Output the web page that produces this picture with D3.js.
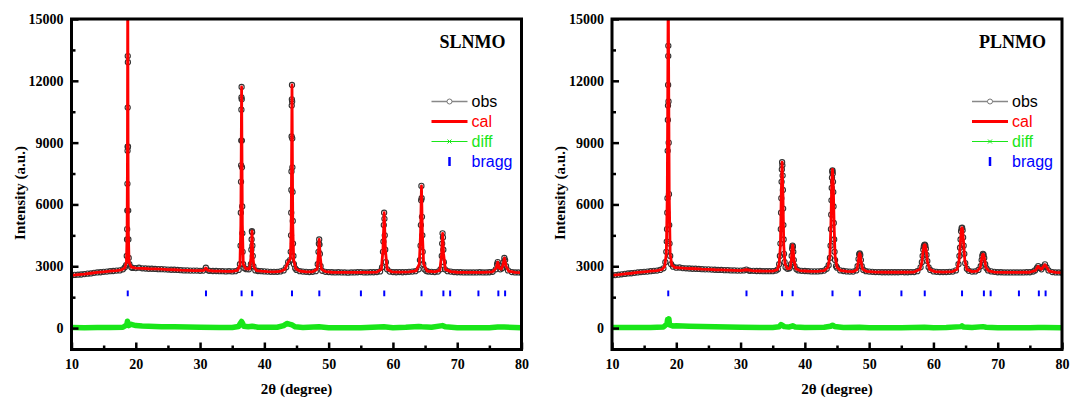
<!DOCTYPE html>
<html><head><meta charset="utf-8">
<script src="https://cdn.jsdelivr.net/npm/d3@7"></script>
<style>body{margin:0;background:#fff}svg{display:block}</style>
</head><body><svg id="c" width="1070" height="400"></svg>
<script>
// ---------- data ----------
const panelNames = ["SLNMO", "PLNMO"];
const legendLabels = ["obs", "cal", "diff", "bragg"];
const xMajorTicks = [10, 20, 30, 40, 50, 60, 70, 80];
const xMinorTicks = [15, 25, 35, 45, 55, 65, 75];
const yMajorTicks = [0, 3000, 6000, 9000, 12000, 15000];
const yMinorTicks = [1500, 4500, 7500, 10500, 13500];
const braggPeaks = [18.75, 30.92, 36.46, 38.1, 44.3, 48.55, 55.02, 58.65, 64.45, 67.85, 68.9, 73.3, 76.4, 77.45];

const obsSL = [[10,2550],[10.5,2580],[11,2590],[11.5,2600],[12,2620],[12.5,2640],[13,2650],[13.5,2680],[14,2700],[14.5,2710],[15,2730],[15.5,2740],[16,2760],[16.5,2770],[17,2790],[17.5,2800],[18,2850],[18.3,2950],[18.5,3050],[18.6,3500],[18.64,4300],[18.66,4800],[18.68,5700],[18.7,7000],[18.72,8600],[18.73,8800],[18.74,10700],[18.75,13200],[18.77,12900],[18.79,8800],[18.82,5700],[18.85,4300],[18.9,3400],[19.0,3100],[19.3,2950],[19.5,2920],[20,2910],[20.5,2930],[21,2900],[21.5,2890],[22,2880],[22.5,2880],[23,2870],[23.5,2860],[24,2860],[24.5,2850],[25,2840],[25.5,2830],[26,2830],[26.5,2820],[27,2810],[27.5,2800],[28,2800],[28.5,2790],[29,2790],[29.5,2790],[30,2780],[30.5,2790],[30.9,2930],[31.3,2790],[31.5,2780],[32,2770],[32.5,2770],[33,2760],[33.5,2760],[34,2750],[34.5,2760],[35,2750],[35.5,2760],[36,2820],[36.2,3100],[36.3,4000],[36.34,5600],[36.37,7100],[36.39,7900],[36.41,9100],[36.43,10600],[36.44,11200],[36.46,11700],[36.48,11100],[36.5,9100],[36.52,7800],[36.55,5900],[36.58,4600],[36.62,3700],[36.7,3100],[36.9,2900],[37.2,2860],[37.6,2850],[37.9,3100],[37.98,3800],[38.02,4300],[38.06,4700],[38.1,4650],[38.14,4000],[38.2,3500],[38.3,3000],[38.6,2800],[39,2770],[39.5,2760],[40,2750],[40.5,2740],[41,2730],[41.5,2730],[42,2730],[42.5,2750],[43,2800],[43.4,2950],[43.7,3200],[44.0,3300],[44.1,3700],[44.15,4500],[44.18,5600],[44.2,6700],[44.22,7600],[44.24,9300],[44.26,10800],[44.28,11100],[44.3,11800],[44.32,11000],[44.34,9200],[44.36,7800],[44.39,6600],[44.42,5200],[44.46,4100],[44.52,3500],[44.6,3100],[44.8,2900],[45,2820],[45.5,2760],[46,2740],[46.5,2730],[47,2720],[47.5,2730],[48,2760],[48.3,3100],[48.42,3700],[48.48,4100],[48.53,4300],[48.58,4050],[48.64,3600],[48.75,3000],[49,2780],[49.5,2730],[50,2720],[50.5,2710],[51,2700],[51.5,2710],[52,2700],[52.5,2700],[53,2690],[53.5,2700],[54,2700],[54.5,2710],[55,2720],[55.5,2700],[56,2700],[56.5,2710],[57,2710],[57.5,2720],[58,2750],[58.3,2950],[58.45,3700],[58.52,4200],[58.58,5000],[58.63,5600],[58.68,5300],[58.73,4500],[58.8,3800],[58.9,3200],[59.1,2850],[59.5,2740],[60,2720],[60.5,2710],[61,2720],[61.5,2710],[62,2720],[62.5,2730],[63,2740],[63.5,2760],[64,2850],[64.2,3300],[64.3,4000],[64.35,5000],[64.39,6200],[64.43,6900],[64.47,6300],[64.52,5400],[64.57,4500],[64.63,3700],[64.72,3100],[64.9,2850],[65.2,2770],[65.5,2740],[66,2730],[66.5,2720],[67,2740],[67.4,2850],[67.6,3500],[67.66,4100],[67.72,4600],[67.78,4400],[67.84,3800],[67.92,3200],[68.1,2850],[68.5,2760],[69,2740],[69.5,2720],[70,2710],[70.5,2710],[71,2700],[71.5,2700],[72,2700],[72.5,2700],[73,2700],[73.5,2710],[74,2700],[74.5,2700],[75,2710],[75.5,2730],[76,2850],[76.2,3100],[76.3,3200],[76.45,3050],[76.7,2850],[77,2900],[77.2,3200],[77.33,3400],[77.45,3300],[77.6,3000],[77.9,2800],[78.5,2720],[79,2700],[79.5,2700],[80,2690]];

const calSL = [[10,2560],[11,2590],[12,2620],[13,2660],[14,2700],[15,2730],[16,2760],[17,2790],[17.8,2830],[18.3,2920],[18.55,3200],[18.65,4600],[18.7,8000],[18.75,17500],[18.8,8000],[18.85,4600],[18.95,3200],[19.3,2960],[20,2910],[21,2900],[22,2880],[23,2870],[24,2860],[25,2840],[26,2830],[27,2810],[28,2800],[29,2790],[30,2785],[30.6,2800],[30.9,2920],[31.2,2800],[32,2770],[33,2760],[34,2755],[35,2755],[35.8,2800],[36.2,3050],[36.34,5000],[36.46,11700],[36.58,5000],[36.72,3100],[37.1,2880],[37.7,2880],[37.95,3500],[38.08,4700],[38.2,3500],[38.4,2950],[38.8,2790],[39.5,2760],[40.5,2740],[41.5,2730],[42.5,2750],[43.2,2850],[43.7,3200],[44.05,3350],[44.18,5000],[44.3,11800],[44.42,5000],[44.56,3300],[44.9,2880],[45.5,2770],[46.5,2730],[47.5,2730],[48.2,2850],[48.38,3500],[48.53,4300],[48.68,3500],[48.9,2850],[49.5,2740],[50.5,2710],[52,2700],[54,2700],[56,2705],[57.5,2720],[58.2,2850],[58.45,3800],[58.64,5600],[58.83,3800],[59.1,2850],[59.8,2730],[61,2715],[62.5,2730],[63.6,2780],[64.1,3100],[64.3,4600],[64.44,6900],[64.58,4600],[64.78,3100],[65.3,2770],[66.5,2725],[67.3,2800],[67.58,3600],[67.73,4600],[67.88,3600],[68.15,2850],[69,2740],[70,2710],[72,2700],[74,2700],[75.5,2730],[76.05,2900],[76.3,3200],[76.55,2900],[76.85,2850],[77.1,3050],[77.35,3400],[77.6,3000],[78,2760],[79,2700],[80,2690]];

const diffSL = [[10,30],[12,20],[14,30],[16,30],[18,40],[18.6,150],[18.7,330],[18.8,250],[18.9,120],[19.3,180],[20,120],[21,100],[22,90],[24,70],[26,60],[28,50],[30,40],[33,30],[35,30],[36,80],[36.3,250],[36.45,320],[36.6,250],[36.8,90],[37.5,60],[38.1,90],[39,40],[42,40],[43,120],[43.5,220],[44,180],[44.3,150],[44.8,60],[46,30],[48.5,60],[50,20],[55,20],[58.6,60],[60,20],[62,40],[64,80],[64.5,60],[66,40],[67.7,120],[68.2,60],[70,20],[75,20],[76.3,50],[77.3,50],[80,20]];

const obsPL = [[10,2560],[10.5,2570],[11,2590],[11.5,2610],[12,2630],[12.5,2650],[13,2660],[13.5,2680],[14,2700],[14.5,2720],[15,2730],[15.5,2740],[16,2760],[16.5,2780],[17,2790],[17.5,2820],[18,2900],[18.3,3200],[18.45,3700],[18.52,4200],[18.56,4800],[18.6,5600],[18.63,6300],[18.66,8600],[18.69,10100],[18.71,10800],[18.73,11800],[18.75,13200],[18.76,13700],[18.79,11000],[18.82,9000],[18.86,6500],[18.9,5000],[18.95,4100],[19.05,3500],[19.2,3100],[19.5,2980],[20,2930],[20.5,2940],[21,2910],[21.5,2900],[22,2890],[22.5,2880],[23,2880],[23.5,2870],[24,2860],[24.5,2850],[25,2850],[25.5,2840],[26,2830],[26.5,2820],[27,2820],[27.5,2810],[28,2810],[28.5,2800],[29,2800],[29.5,2790],[30,2790],[30.5,2800],[30.9,2840],[31.3,2790],[31.5,2780],[32,2780],[32.5,2770],[33,2770],[33.5,2760],[34,2760],[34.5,2760],[35,2760],[35.5,2790],[35.8,2850],[36.0,3100],[36.12,3500],[36.2,4100],[36.26,4800],[36.3,5600],[36.34,6300],[36.38,7100],[36.42,7700],[36.46,8050],[36.5,7900],[36.54,7400],[36.58,6700],[36.62,5800],[36.66,5000],[36.7,4300],[36.76,3600],[36.85,3200],[37.0,2950],[37.3,2880],[37.6,2900],[37.85,3100],[37.95,3500],[38.02,3850],[38.08,4000],[38.14,3950],[38.2,3700],[38.28,3300],[38.4,3000],[38.7,2850],[39,2800],[39.5,2780],[40,2770],[40.5,2760],[41,2750],[41.5,2750],[42,2750],[42.5,2760],[43,2790],[43.4,2880],[43.7,3050],[43.9,3400],[44.0,4000],[44.06,4800],[44.1,5500],[44.14,6200],[44.18,6800],[44.22,7300],[44.26,7600],[44.3,7650],[44.34,7500],[44.38,7100],[44.42,6600],[44.46,5900],[44.5,5100],[44.56,4300],[44.62,3700],[44.7,3300],[44.85,3000],[45,2930],[45.5,2800],[46,2770],[46.5,2750],[47,2740],[47.5,2740],[48,2800],[48.2,3000],[48.35,3350],[48.45,3580],[48.53,3620],[48.62,3550],[48.72,3300],[48.85,3000],[49.1,2820],[49.5,2760],[50,2740],[50.5,2730],[51,2720],[51.5,2720],[52,2710],[52.5,2710],[53,2710],[53.5,2710],[54,2710],[54.5,2710],[55,2720],[55.5,2710],[56,2710],[56.5,2720],[57,2720],[57.5,2760],[58.0,2950],[58.2,3200],[58.32,3500],[58.42,3800],[58.5,3950],[58.58,4030],[58.66,4050],[58.74,4000],[58.82,3850],[58.92,3550],[59.05,3250],[59.25,2950],[59.5,2820],[60,2750],[60.5,2730],[61,2720],[61.5,2720],[62,2720],[62.5,2730],[63,2740],[63.5,2800],[63.9,3100],[64.05,3500],[64.14,3900],[64.22,4300],[64.3,4700],[64.38,4850],[64.46,4870],[64.54,4750],[64.62,4400],[64.7,4000],[64.8,3600],[64.95,3150],[65.2,2880],[65.5,2780],[66,2740],[66.5,2750],[67,2820],[67.35,3000],[67.5,3300],[67.6,3500],[67.7,3600],[67.8,3560],[67.9,3400],[68.05,3100],[68.25,2900],[68.5,2800],[69,2750],[69.5,2730],[70,2710],[70.5,2710],[71,2700],[71.5,2700],[72,2700],[72.5,2700],[73,2700],[73.5,2700],[74,2700],[74.5,2710],[75,2710],[75.5,2740],[75.8,2800],[76.1,2920],[76.3,3010],[76.5,2920],[76.8,2850],[77.1,2980],[77.35,3090],[77.6,2950],[77.9,2800],[78.5,2720],[79,2700],[79.5,2700],[80,2690]];

const calPL = [[10,2560],[11,2590],[12,2630],[13,2660],[14,2700],[15,2730],[16,2760],[17,2790],[17.8,2850],[18.2,3000],[18.45,3600],[18.6,6500],[18.68,12000],[18.75,17000],[18.82,12000],[18.9,6500],[19.05,3600],[19.3,3050],[19.8,2940],[21,2910],[22,2890],[23,2880],[24,2860],[25,2850],[26,2830],[27,2820],[28,2810],[29,2800],[30,2790],[30.9,2830],[32,2780],[33,2770],[34,2760],[35,2760],[35.7,2830],[36.0,3100],[36.2,4000],[36.33,6500],[36.46,8050],[36.59,6500],[36.72,4000],[36.92,3100],[37.3,2880],[37.7,2900],[37.9,3300],[38.0,3800],[38.1,4030],[38.2,3800],[38.3,3300],[38.6,2880],[39.2,2790],[40,2770],[41,2750],[42,2750],[43,2790],[43.6,2950],[43.9,3500],[44.05,5000],[44.18,7000],[44.3,7700],[44.42,7000],[44.55,5000],[44.7,3500],[45,2950],[45.5,2800],[46.5,2750],[47.5,2740],[48.1,2830],[48.3,3200],[48.43,3550],[48.53,3630],[48.63,3550],[48.76,3200],[49,2850],[49.6,2750],[51,2720],[53,2710],[55,2710],[57,2720],[57.9,2850],[58.2,3200],[58.4,3750],[58.55,4020],[58.64,4050],[58.73,4020],[58.88,3750],[59.08,3200],[59.4,2850],[60.2,2740],[61.5,2720],[63,2740],[63.7,2850],[64.0,3300],[64.2,4200],[64.35,4800],[64.44,4870],[64.53,4800],[64.68,4200],[64.88,3300],[65.2,2850],[66,2740],[66.8,2760],[67.3,2950],[67.5,3350],[67.65,3570],[67.73,3590],[67.81,3570],[67.96,3350],[68.16,2950],[68.6,2770],[69.5,2720],[71,2700],[73,2700],[75,2710],[75.9,2800],[76.15,2950],[76.3,3000],[76.5,2920],[76.8,2850],[77.1,2980],[77.35,3080],[77.6,2960],[78,2760],[79,2700],[80,2690]];

const diffPL = [[10,30],[12,30],[14,30],[16,30],[18,50],[18.55,200],[18.65,420],[18.75,330],[18.85,450],[18.95,150],[19.5,100],[20,110],[21,100],[22,90],[24,80],[26,60],[28,50],[30,40],[33,30],[35,30],[36,60],[36.3,170],[36.5,130],[36.8,70],[37.5,50],[38.1,110],[38.5,50],[40,30],[43,40],[44,90],[44.3,140],[44.6,80],[46,30],[48.5,40],[50,20],[55,20],[58.6,40],[60,20],[62,30],[64.3,70],[64.45,110],[64.7,50],[66,30],[67.7,70],[68.2,40],[70,20],[75,20],[76.3,30],[77.3,30],[80,20]];

// ---------- layout ----------
const panelX0 = [71.5, 612];
const plotW = 450, plotTop = 19, plotBottom = 349.5;
const GREEN = "#19e619";
const seriesFor = [
  {obs: obsSL, cal: calSL, diff: diffSL},
  {obs: obsPL, cal: calPL, diff: diffPL}
];

const svg = d3.select("#c");
const serif = "'Liberation Serif','Times New Roman',serif";
const sans = "'Liberation Sans',Arial,sans-serif";

panelNames.forEach((name, i) => {
  const x0 = panelX0[i];
  const s = seriesFor[i];
  const x = d3.scaleLinear().domain([10, 80]).range([0, plotW]);
  const y = d3.scaleLinear().domain([-1040, 15000]).range([plotBottom - plotTop, 0]);
  const h = plotBottom - plotTop;
  const g = svg.append("g").attr("transform", `translate(${x0},${plotTop})`);

  const clipId = "clip" + i;
  g.append("clipPath").attr("id", clipId).append("rect")
    .attr("x", 0).attr("y", 0).attr("width", plotW).attr("height", h);
  const d = g.append("g").attr("clip-path", `url(#${clipId})`);
  const line = d3.line().x(p => x(p[0])).y(p => y(p[1]));

  // diff
  d.append("path").datum(s.diff).attr("d", line)
    .attr("fill", "none").attr("stroke", GREEN).attr("stroke-width", 5.5)
    .attr("stroke-linejoin", "round");

  // obs
  d.append("path").datum(s.obs).attr("d", line)
    .attr("fill", "none").attr("stroke", "#333").attr("stroke-width", 1.2);
  d.selectAll("circle.obs").data(s.obs).join("circle").attr("class", "obs")
    .attr("cx", p => x(p[0])).attr("cy", p => y(p[1])).attr("r", 2.6)
    .attr("fill", "none").attr("stroke", "#333").attr("stroke-width", 1.1);

  // cal
  d.append("path").datum(s.cal).attr("d", line)
    .attr("fill", "none").attr("stroke", "#ff0000").attr("stroke-width", 2.8)
    .attr("stroke-linejoin", "round");

  // bragg
  d.selectAll("line.bragg").data(braggPeaks).join("line").attr("class", "bragg")
    .attr("x1", v => x(v)).attr("x2", v => x(v))
    .attr("y1", y(1540)).attr("y2", y(1820))
    .attr("stroke", "#0000ff").attr("stroke-width", 2);

  // axes
  const styleAxis = sel => {
    sel.select(".domain").remove();
    sel.selectAll(".tick line").attr("stroke", "#000").attr("stroke-width", 2.5);
    sel.selectAll("text").attr("font-family", serif).attr("font-weight", "bold")
      .attr("font-size", 14).attr("fill", "#000");
  };
  g.append("g").attr("transform", `translate(0,${h})`)
    .call(d3.axisBottom(x).tickValues(xMajorTicks).tickSize(-7).tickPadding(9.5).tickFormat(d3.format("d")))
    .call(styleAxis);
  g.append("g").attr("transform", `translate(0,${h})`)
    .call(d3.axisBottom(x).tickValues(xMinorTicks).tickSize(-4).tickFormat(""))
    .call(styleAxis);
  g.append("g")
    .call(d3.axisLeft(y).tickValues(yMajorTicks).tickSize(-7).tickPadding(8).tickFormat(d3.format("d")))
    .call(styleAxis);
  g.append("g")
    .call(d3.axisLeft(y).tickValues(yMinorTicks).tickSize(-4).tickFormat(""))
    .call(styleAxis);

  // frame
  g.append("rect").attr("x", 0).attr("y", 0).attr("width", plotW).attr("height", h)
    .attr("fill", "none").attr("stroke", "#000").attr("stroke-width", 3);

  // panel label
  g.append("text").attr("x", 434).attr("y", 29).attr("text-anchor", "end")
    .attr("font-family", serif).attr("font-weight", "bold").attr("font-size", 18)
    .text(name);

  // legend
  const colors = ["#000", "#ff0000", GREEN, "#0000ff"];
  const lg = g.append("g");
  legendLabels.forEach((lab, k) => {
    const ly = 82.5 + k * 20;
    const lx1 = 360, lx2 = 396, cx = 378;
    if (k === 0) {
      lg.append("line").attr("x1", lx1).attr("x2", lx2).attr("y1", ly).attr("y2", ly)
        .attr("stroke", "#888").attr("stroke-width", 1.5);
      lg.append("circle").attr("cx", cx).attr("cy", ly).attr("r", 2.5)
        .attr("fill", "#fff").attr("stroke", "#777").attr("stroke-width", 1);
    } else if (k === 1) {
      lg.append("line").attr("x1", lx1).attr("x2", lx2).attr("y1", ly).attr("y2", ly)
        .attr("stroke", "#ff0000").attr("stroke-width", 3);
    } else if (k === 2) {
      lg.append("line").attr("x1", lx1).attr("x2", lx2).attr("y1", ly).attr("y2", ly)
        .attr("stroke", GREEN).attr("stroke-width", 1);
      lg.append("path").attr("d", `M${cx-2},${ly-2}L${cx+2},${ly+2}M${cx-2},${ly+2}L${cx+2},${ly-2}`)
        .attr("stroke", GREEN).attr("stroke-width", 1);
    } else {
      lg.append("line").attr("x1", cx).attr("x2", cx).attr("y1", ly - 4.5).attr("y2", ly + 4.5)
        .attr("stroke", "#0000ff").attr("stroke-width", 2.5);
    }
    lg.append("text").attr("x", 400).attr("y", ly).attr("dy", "0.35em")
      .attr("font-family", sans).attr("font-size", 16).attr("fill", colors[k])
      .text(lab);
  });

  // axis titles
  g.append("text").attr("transform", `translate(-52,${174}) rotate(-90)`)
    .attr("text-anchor", "middle").attr("dy", "0.35em")
    .attr("font-family", serif).attr("font-weight", "bold").attr("font-size", 15)
    .text("Intensity (a.u.)");
  g.append("text").attr("x", plotW / 2).attr("y", 370).attr("text-anchor", "middle")
    .attr("dy", "0.35em")
    .attr("font-family", serif).attr("font-weight", "bold").attr("font-size", 15)
    .text("2θ (degree)");
});
</script>
</body></html>
